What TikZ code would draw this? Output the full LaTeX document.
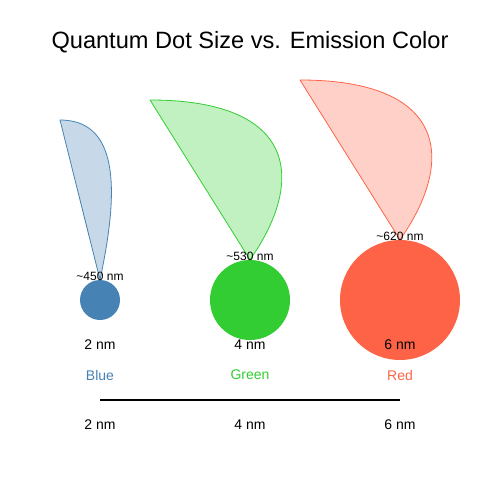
\documentclass[tikz,border=0pt]{standalone}
\usepackage{fontspec}
\setmainfont{Liberation Sans}
\usetikzlibrary{positioning}
\definecolor{qblue}{HTML}{4682B4}
\definecolor{qgreen}{HTML}{32CD32}
\definecolor{qred}{HTML}{FF6347}
\tikzset{dot/.style={circle,inner sep=0pt,draw=none},
 petal/.style={line width=0.8pt,line join=round},
 lbl/.style={font=\fontsize{14}{16}\selectfont,inner sep=0pt},
 wave/.style={font=\fontsize{12}{14}\selectfont,inner sep=0pt,anchor=base}}

\begin{document}
\begin{tikzpicture}[x=1pt,y=-1pt]
\useasboundingbox (0,0) rectangle (500,500);
\node[font=\fontsize{23.6}{28}\selectfont,inner sep=0pt] (title) at (250,42) {Quantum Dot Size vs. Emission Color};
% quantum dots
\node[dot,fill=qblue,minimum size=40pt] (db) at (100,300) {};
\node[dot,fill=qgreen,minimum size=80pt] (dg) at (250,300) {};
\node[dot,fill=qred,minimum size=120pt] (dr) at (400,300) {};
% emission petals
\draw[petal,draw=qblue,fill=qblue!30] (db.north) -- (60,120)
 .. controls (123,120) and (117,200) .. (db.north);
\draw[petal,draw=qgreen,fill=qgreen!30] (dg.north) -- (150,100)
 .. controls (297,100) and (306,180) .. (dg.north);
\draw[petal,draw=qred,fill=qred!30] (dr.north) -- (300,80)
 .. controls (447,80) and (456,160) .. (dr.north);
\node[wave] (wb) at (100,280) {\textasciitilde450 nm};
\node[wave] (wg) at (250,260) {\textasciitilde530 nm};
\node[wave] (wr) at (400,240) {\textasciitilde620 nm};
% sizes and colour names
\node[lbl] (sb) at (100,345) {2 nm};
\node[lbl] (sg) at (250,345) {4 nm};
\node[lbl] (sr) at (400,345) {6 nm};
\node[lbl,text=qblue] (cb) at (100,375) {Blue};
\node[lbl,text=qgreen] (cg) at (250,375) {Green};
\node[lbl,text=qred] (cr) at (400,375) {Red};
% size axis
\coordinate (a0) at (100,400);
\coordinate (a1) at (400,400);
\draw[line width=2pt] (a0) -- (a1);
\node[lbl] (t2) at (100,425) {2 nm};
\node[lbl] (t4) at (250,425) {4 nm};
\node[lbl] (t6) at (400,425) {6 nm};
\end{tikzpicture}
\end{document}
